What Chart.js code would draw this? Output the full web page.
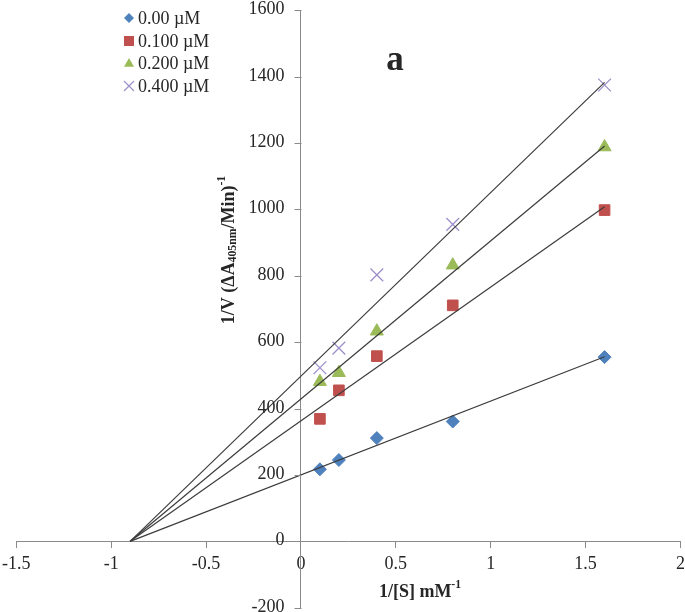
<!DOCTYPE html>
<html>
<head>
<meta charset="utf-8">
<script src="https://cdn.jsdelivr.net/npm/chart.js@4.4.0/dist/chart.umd.min.js"></script>
<style>
    html, body { margin: 0; padding: 0; background: #fff; overflow: hidden; }
    #wrap { position: relative; width: 685px; height: 612px; overflow: hidden; }
    #lbChart { position: absolute; left: -6px; top: 0; }
</style>
</head>
<body>
<div id="wrap"><canvas id="lbChart" width="699" height="618"></canvas></div>
<script>
// Données - 1/[S] (mM-1)
const invSubstrate = [0.1, 0.2, 0.4, 0.8, 1.6];
// 1/V pour chaque concentration d'inhibiteur
const inv000 = [217, 245, 311, 361, 555];
const inv100 = [369, 455, 558, 711, 998];
const inv200 = [481, 508, 633, 832, 1188];
const inv400 = [523, 582, 803, 955, 1375];
const seriesLabels = ['0.00 µM', '0.100 µM', '0.200 µM', '0.400 µM'];
// Droites de tendance : point commun sur l'axe x et valeur à x = 1.6
const trendX = [-0.9, 1.6];
const trendStart = [0, 0, 0, 0];
const trendEnd = [556, 1008, 1191, 1383];
// Graduations
const xTicks = [-1.5, -1, -0.5, 0, 0.5, 1, 1.5, 2];
const yTicks = [-200, 0, 200, 400, 600, 800, 1000, 1200, 1400, 1600];

const serif = '"Liberation Serif", "Times New Roman", serif';
const axisColor = '#8a8a8a';
const textColor = '#262626';
const shiftX = 6; // décalage du canvas dans la page

const seriesValues = [inv000, inv100, inv200, inv400];
const markers = [
    { style: 'rectRot', radius: 6.5, color: '#4f81bd' },
    { style: 'rect', radius: 7.5, color: '#c0504d' },
    { style: 'triangle', radius: 7.5, color: '#9bbb59' },
    { style: 'crossRot', radius: 9, color: '#9d8fc9' }
];

function toPoints(xs, ys) {
    return xs.map((x, i) => ({ x: x, y: ys[i] }));
}

const datasets = [];
// droites de tendance (dessinées au-dessus des marqueurs)
trendEnd.forEach((end, i) => {
    datasets.push({
        label: 'trend' + i,
        data: toPoints(trendX, [trendStart[i], end]),
        showLine: true,
        borderColor: '#3c3c3c',
        borderWidth: 1.2,
        pointRadius: 0,
        order: 0
    });
});
seriesValues.forEach((vals, i) => {
    const m = markers[i];
    datasets.push({
        label: seriesLabels[i],
        data: toPoints(invSubstrate, vals),
        showLine: false,
        pointStyle: m.style,
        pointRadius: m.radius,
        pointBackgroundColor: m.color,
        pointBorderColor: m.color,
        pointBorderWidth: m.style === 'crossRot' ? 1.3 : 1,
        order: 1
    });
});

// Texte avec indices / exposants
function drawRich(ctx, parts, x, y, size, align) {
    const widths = parts.map(p => {
        const s = p.sub || p.sup ? size * 0.65 : size;
        ctx.font = 'bold ' + s + 'px ' + serif;
        return ctx.measureText(p.t).width;
    });
    const total = widths.reduce((a, b) => a + b, 0);
    let cx = align === 'center' ? x - total / 2 : x;
    parts.forEach((p, i) => {
        const s = p.sub || p.sup ? size * 0.65 : size;
        ctx.font = 'bold ' + s + 'px ' + serif;
        let dy = 0;
        if (p.sub) dy = size * 0.22;
        if (p.sup) dy = -size * 0.38;
        ctx.fillText(p.t, cx, y + dy);
        cx += widths[i];
    });
}

function drawMarker(ctx, m, x, y, r) {
    ctx.save();
    ctx.fillStyle = m.color;
    ctx.strokeStyle = m.color;
    ctx.beginPath();
    if (m.style === 'rectRot') {
        ctx.moveTo(x, y - r); ctx.lineTo(x + r, y); ctx.lineTo(x, y + r); ctx.lineTo(x - r, y);
        ctx.closePath(); ctx.fill();
    } else if (m.style === 'rect') {
        ctx.fillRect(x - r, y - r, 2 * r, 2 * r);
    } else if (m.style === 'triangle') {
        ctx.moveTo(x, y - r); ctx.lineTo(x + r, y + r * 0.75); ctx.lineTo(x - r, y + r * 0.75);
        ctx.closePath(); ctx.fill();
    } else {
        ctx.lineWidth = 1.2;
        ctx.moveTo(x - r, y - r); ctx.lineTo(x + r, y + r);
        ctx.moveTo(x + r, y - r); ctx.lineTo(x - r, y + r);
        ctx.stroke();
    }
    ctx.restore();
}

const annotations = {
    id: 'annotations',
    afterDraw(chart) {
        const ctx = chart.ctx;
        const xs = chart.scales.x;
        const ys = chart.scales.y;
        const axisX = Math.round(xs.getPixelForValue(0)) + 0.5;
        ctx.save();
        ctx.fillStyle = textColor;
        ctx.textBaseline = 'middle';

        // Graduations et étiquettes de l'axe y
        ctx.strokeStyle = axisColor;
        ctx.lineWidth = 1;
        ctx.font = '18px ' + serif;
        ctx.textAlign = 'right';
        yTicks.forEach(v => {
            const py = Math.round(ys.getPixelForValue(v)) + 0.5;
            ctx.beginPath();
            ctx.moveTo(axisX - 7, py);
            ctx.lineTo(axisX, py);
            ctx.stroke();
            ctx.fillText(String(v), axisX - 17, py - 1);
        });

        // positions ci-dessous en coordonnées de la page
        ctx.translate(shiftX, 0);

        // Légende
        const rowY = [18, 41, 63, 86];
        seriesLabels.forEach((label, i) => {
            drawMarker(ctx, markers[i], 129, rowY[i], 5);
            ctx.fillStyle = textColor;
            ctx.textAlign = 'left';
            ctx.font = '18px ' + serif;
            ctx.fillText(label, 138, rowY[i] + 1);
        });

        // Lettre du panneau
        ctx.textAlign = 'center';
        ctx.font = 'bold 35px ' + serif;
        ctx.fillText('a', 395, 61);

        // Titre axe x
        ctx.textAlign = 'left';
        drawRich(ctx, [{ t: '1/[S] mM' }, { t: '-1', sup: true }], 420, 592, 18, 'center');

        // Titre axe y (vertical)
        ctx.translate(229, 250);
        ctx.rotate(-Math.PI / 2);
        drawRich(ctx, [
            { t: '1/V (ΔA' }, { t: '405nm', sub: true }, { t: '/Min)' }, { t: '-1', sup: true }
        ], 0, 0, 18, 'center');
        ctx.restore();
    }
};

new Chart(document.getElementById('lbChart'), {
    type: 'scatter',
    data: { datasets: datasets },
    options: {
        responsive: false,
        animation: false,
        layout: { padding: { left: 10, right: 5, top: 9, bottom: 5 } },
        plugins: {
            legend: { display: false },
            tooltip: { enabled: false }
        },
        scales: {
            x: {
                type: 'linear',
                min: xTicks[0],
                max: xTicks[xTicks.length - 1],
                position: { y: 0 },
                afterBuildTicks: axis => { axis.ticks = xTicks.map(v => ({ value: v })); },
                ticks: { font: { family: serif, size: 18, lineHeight: 1 }, color: textColor, padding: 8, maxRotation: 0, callback: v => String(v) },
                grid: { drawOnChartArea: false, drawTicks: true, tickLength: 6, color: axisColor },
                border: { color: axisColor, width: 1 }
            },
            y: {
                type: 'linear',
                min: yTicks[0],
                max: yTicks[yTicks.length - 1],
                position: { x: 0 },
                afterBuildTicks: axis => { axis.ticks = yTicks.map(v => ({ value: v })); },
                ticks: { display: false },
                grid: { drawOnChartArea: false, drawTicks: false, color: axisColor },
                border: { color: axisColor, width: 1 }
            }
        }
    },
    plugins: [annotations]
});
</script>
</body>
</html>
